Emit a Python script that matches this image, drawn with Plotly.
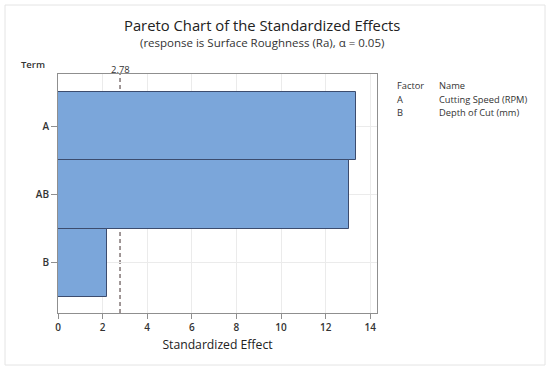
import plotly.graph_objects as go

terms = ["A", "AB", "B"]
effects = [13.37, 13.05, 2.19]
ref_value = 2.78
x_ticks = [0, 2, 4, 6, 8, 10, 12, 14]
factor_codes = ["A", "B"]
factor_names = ["Cutting Speed (RPM)", "Depth of Cut (mm)"]

W, H = 550, 370
L, R, T, B = 58, 377, 74, 313
FONT = "Open Sans"
TXT = "#333333"


def px(x):
    return (x - L) / (R - L)


def py(y):
    return (B - y) / (B - T)


ypos = list(range(len(terms)))

fig = go.Figure()
fig.add_trace(go.Bar(
    x=effects, y=ypos, orientation="h", width=1.0,
    marker=dict(color="#7BA6DA", line=dict(color="#3C4C6E", width=1)),
    hoverinfo="x+text", text=terms, textposition="none",
))

fig.add_shape(type="line", x0=ref_value, x1=ref_value, y0=0, y1=1,
              xref="x", yref="paper", layer="below",
              line=dict(color="#6E6060", width=1.3, dash="4px,3px"))


def note(text, x, y, size, xanchor="center", color=TXT, weight=None, xref="paper"):
    f = dict(family=FONT, size=size, color=color)
    if weight:
        f["weight"] = weight
    return dict(text=text, x=x, y=py(y), xref=xref, yref="paper", showarrow=False,
                xanchor=xanchor, yanchor="middle", font=f)


ann = [
    note("Pareto Chart of the Standardized Effects", px(262), 24.5, 14.8, color="#222", weight=500),
    note("(response is Surface Roughness (Ra), α = 0.05)", px(262), 42, 11.5),
    note("Term", px(33), 64.5, 9.5, weight=600),
    note(f"{ref_value:.2f}", ref_value, 69, 9.5, xref="x"),
    note("Factor", px(395), 85.7, 9.3, xanchor="left"),
    note("Name", px(436.5), 85.7, 9.3, xanchor="left"),
]
for i, (c, n) in enumerate(zip(factor_codes, factor_names)):
    yy = 99.3 + i * 13.4
    ann.append(note(c, px(395), yy, 9.3, xanchor="left"))
    ann.append(note(n, px(436.5), yy, 9.3, xanchor="left"))

fig.add_shape(type="rect", x0=px(5), x1=px(545), y0=py(365), y1=py(5),
              xref="paper", yref="paper", line=dict(color="#E4E4E4", width=1), layer="below")

fig.update_layout(
    width=W, height=H,
    margin=dict(l=L, r=W - R, t=T, b=H - B, autoexpand=False),
    paper_bgcolor="white", plot_bgcolor="white",
    showlegend=False, bargap=0,
    annotations=ann,
    xaxis=dict(range=[0, 14.3], tickvals=x_ticks, showgrid=True, gridcolor="#EBEBEB",
               zeroline=False, showline=True, linecolor="#8F8F8F", mirror=True,
               ticks="outside", ticklen=5, tickcolor="#8F8F8F",
               tickfont=dict(family=FONT, size=10, color=TXT, weight=600),
               title=dict(text="Standardized Effect", standoff=7,
                          font=dict(family=FONT, size=12.2, color="#222"))),
    yaxis=dict(range=[2.734, -0.767], tickvals=ypos, ticktext=terms, showgrid=True,
               gridcolor="#EBEBEB", zeroline=False, showline=True, linecolor="#8F8F8F",
               mirror=True, ticks="outside", ticklen=6, tickcolor="#8F8F8F",
               tickfont=dict(family=FONT, size=10, color=TXT, weight=600)),
)

fig.write_html("out.html", config={"displayModeBar": False},
               post_script="document.body.style.margin='0';")
